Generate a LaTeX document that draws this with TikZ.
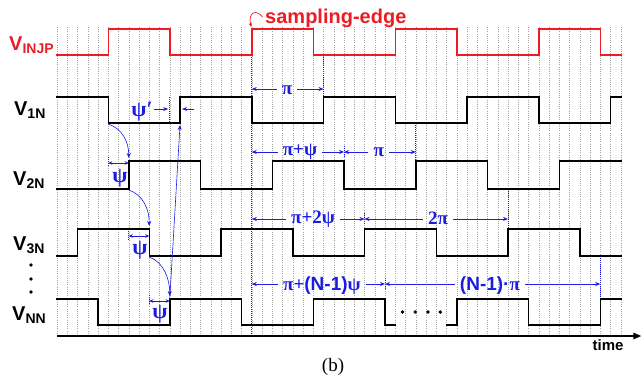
\documentclass[tikz,border=0pt]{standalone}
\usepackage{fontspec}
\setmainfont{Liberation Serif}
\setsansfont{Liberation Sans}
\usetikzlibrary{arrows.meta}
\definecolor{annblue}{RGB}{28,28,225}
\definecolor{sigred}{RGB}{236,28,36}
\definecolor{gridgray}{RGB}{165,165,165}
\newcommand{\sigsub}[1]{\raisebox{-3.5pt}{\fontsize{14}{14}\selectfont #1}}
\tikzset{
  wave/.style={line width=1.5pt, line join=miter, line cap=rect},
  gridln/.style={gridgray, line width=0.5pt, dash pattern=on 1pt off 1.2pt},
  bdot/.style={annblue, line width=0.7pt, dash pattern=on 1pt off 1pt},
  annarr/.style={annblue, line width=0.7pt, -{Stealth[length=5pt,width=4pt]}},
  dblarr/.style={annblue, line width=0.7pt, {Stealth[length=4pt,width=3.5pt]}-{Stealth[length=4pt,width=3.5pt]}},
  curvearr/.style={annblue, line width=0.6pt, -{Stealth[length=5pt,width=4pt]}},
  siglbl/.style={font=\fontsize{20}{20}\selectfont\sffamily\bfseries, anchor=base west, inner sep=0pt},
  annlbl/.style={annblue, font=\fontsize{19}{19}\selectfont\bfseries, inner xsep=5pt, inner ysep=0pt},
  psilbl/.style={annblue, font=\fontsize{22}{22}\selectfont\bfseries, inner sep=0pt},
  dotmark/.style={fill=black, draw=none}
}
\begin{document}
\begin{tikzpicture}[x=10.25pt,y=-1pt,shift={(57pt,0pt)}]
\useasboundingbox (-5.561,0) rectangle (57.268,381);
% grid
\foreach \i in {0,...,55} \draw[gridln] (\i,27) -- (\i,336);
% blue dotted guides
\draw[bdot] (19,55) -- (19,336);
\draw[bdot] (26,55) -- (26,97);
\draw[bdot] (11,97) -- (11,123);
\draw[bdot] (35,123) -- (35,161);
\draw[bdot] (44,189) -- (44,229);
\draw[bdot] (53,256) -- (53,299);
\draw[bdot] (28,146) -- (28,158);
\draw[bdot] (30,213) -- (30,225);
\draw[bdot] (32,278) -- (32,290);
\draw[bdot] (5,157) -- (5,166);
\draw[bdot] (7,231) -- (7,240);
\draw[bdot] (9,295) -- (9,304);
% waveforms
\draw[wave, sigred] (0,55) -| (5,29) -| (11,55) -| (19,29) -| (25,55) -| (33,29) -| (39,55) -| (47,29) -| (53,55) -- (55,55);
\draw[wave] (0,97) -| (5,123) -| (12,97) -| (19,123) -| (26,97) -| (33,123) -| (40,97) -| (47,123) -| (54,97) -- (55,97);
\draw[wave] (0,189) -| (7,161) -| (14,189) -| (21,161) -| (28,189) -| (35,161) -| (42,189) -| (49,161) -- (55,161);
\draw[wave] (0,256) -| (2,229) -| (9,256) -| (16,229) -| (23,256) -| (30,229) -| (37,256) -| (44,229) -| (51,256) -- (55,256);
\draw[wave] (0,299) -| (4,325) -| (11,299) -| (18,325) -| (25,299) -| (32,325) -- (33,325);
\draw[wave] (38,325) -| (39,299) -| (46,325) -| (53,299) -- (55,299);
% dots
\foreach \d in {33.7,34.95,36.2,37.4} \fill[dotmark] (\d,312) circle[radius=1.9pt];
\foreach \d in {265,279,292} \fill[dotmark] (-2.54,\d) circle[radius=1.9pt];
% time axis
\coordinate (ax0) at (0,336);
\coordinate (ax1) at (57.0,336);
\draw[line width=1.5pt, -{Triangle[length=8pt,width=6.5pt]}] (ax0) -- (ax1);
\node[font=\fontsize{15}{15}\selectfont\sffamily\bfseries] (time) at (53.76,345) {time};
\node[font=\fontsize{19}{19}\selectfont] (cap) at (26.93,367) {(b)};
% signal labels
\node[siglbl, sigred] (vinjp) at (-4.68,50) {V\sigsub{INJP}};
\node[siglbl] (v1n) at (-4.2,115) {V\sigsub{1N}};
\node[siglbl] (v2n) at (-4.29,185) {V\sigsub{2N}};
\node[siglbl] (v3n) at (-4.29,250) {V\sigsub{3N}};
\node[siglbl] (vnn) at (-4.39,320) {V\sigsub{NN}};
% sampling edge
\node[sigred, font=\fontsize{20}{20}\selectfont\sffamily\bfseries, anchor=base, inner sep=0pt] (se) at (27.2,23) {sampling-edge};
\coordinate (setip) at (18.95,27);
\draw[sigred, line width=0.7pt, -{Stealth[length=4pt,width=3.5pt]}] ([xshift=-2.5pt,yshift=1pt]se.west) .. controls (19.45,9) and (18.6,12) .. (setip);
% row 1 : pi
\coordinate (L1) at (19,89); \coordinate (R1) at (26,89);
\node[annlbl] (pa) at (22.44,90) {π};
\draw[annarr] (pa.west |- L1) -- (L1);
\draw[annarr] (pa.east |- R1) -- (R1);
% row 2
\coordinate (L2) at (19,152); \coordinate (M2) at (28,152); \coordinate (R2) at (35,152);
\node[annlbl] (pb) at (23.7,151.5) {π+ψ};
\node[annlbl] (pc) at (31.4,152) {π};
\draw[annarr] (pb.west |- L2) -- (L2);
\draw[annarr] (pb.east |- M2) -- (M2);
\draw[annarr] (pc.west |- M2) -- (M2);
\draw[annarr] (pc.east |- R2) -- (R2);
% row 3
\coordinate (L3) at (19,219); \coordinate (M3) at (30,219); \coordinate (R3) at (44,219);
\node[annlbl] (pd) at (24.98,219.5) {π+2ψ};
\node[annlbl] (pe) at (37.17,218.5) {2π};
\draw[annarr] (pd.west |- L3) -- (L3);
\draw[annarr] (pd.east |- M3) -- (M3);
\draw[annarr] (pe.west |- M3) -- (M3);
\draw[annarr] (pe.east |- R3) -- (R3);
% row N
\coordinate (L4) at (19,284); \coordinate (M4) at (32,284); \coordinate (R4) at (53,284);
\node[annlbl] (pf) at (25.85,285.5) {π+\textsf{(N-1)}ψ};
\node[annlbl] (pg) at (42.24,285.5) {\textsf{(N-1)·}π};
\draw[annarr] (pf.west |- L4) -- (L4);
\draw[annarr] (pf.east |- M4) -- (M4);
\draw[annarr] (pg.west |- M4) -- (M4);
\draw[annarr] (pg.east |- R4) -- (R4);
% psi prime
\node[psilbl] (psip) at (8.3,112) {ψ′};
\coordinate (pptipa) at (10.85,109);
\coordinate (pptipb) at (12.2,109);
\coordinate (pptailb) at (13.4,109);
\draw[annarr] ([xshift=1pt]psip.east |- pptipa) -- (pptipa);
\draw[annarr] (pptailb) -- (pptipb);
% psi delays
\coordinate (c1a) at (5,124); \coordinate (c1b) at (7,158);
\draw[curvearr] (c1a) .. controls (6.4,129) and (7,142) .. (c1b);
\coordinate (d1a) at (5,163); \coordinate (d1b) at (7,163);
\draw[dblarr] (d1a) -- (d1b);
\node[psilbl] (psa) at (6.15,178) {ψ};
\coordinate (c2a) at (7,190); \coordinate (c2b) at (9,226);
\draw[curvearr] (c2a) .. controls (8.4,195) and (9,209) .. (c2b);
\coordinate (d2a) at (7,236); \coordinate (d2b) at (9,236);
\draw[dblarr] (d2a) -- (d2b);
\node[psilbl] (psb) at (8.1,250) {ψ};
\coordinate (c3a) at (9,257); \coordinate (c3b) at (11,296);
\draw[curvearr] (c3a) .. controls (10.4,262) and (11,279) .. (c3b);
\coordinate (d3a) at (9,301); \coordinate (d3b) at (11,301);
\draw[dblarr] (d3a) -- (d3b);
\node[psilbl] (psc) at (10.05,314) {ψ};
% long feedback line
\coordinate (nnr) at (11,299); \coordinate (v1r) at (12,125);
\draw[curvearr] (nnr) -- (v1r);
\end{tikzpicture}
\end{document}
